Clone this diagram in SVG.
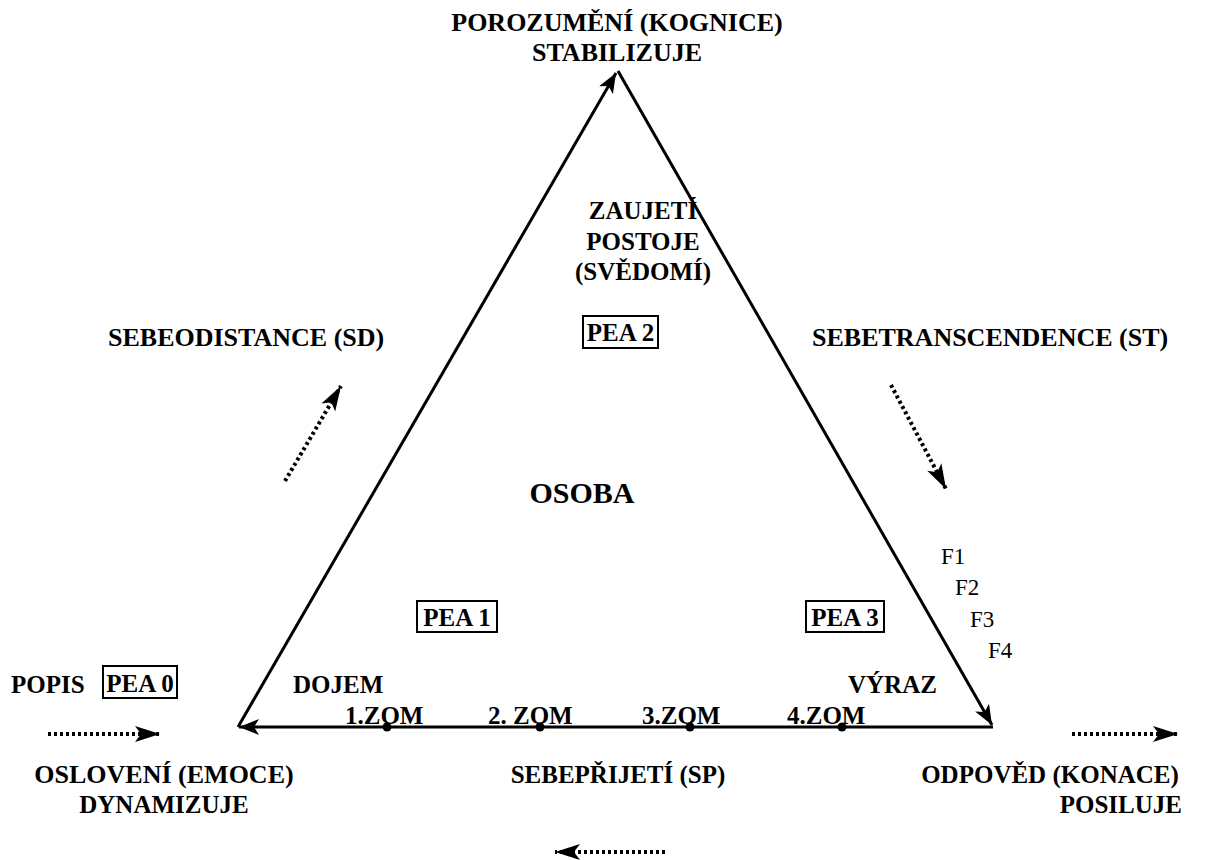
<svg xmlns="http://www.w3.org/2000/svg" width="1208" height="860" viewBox="0 0 1208 860">
  <defs>
    <style>
      text { font-family: 'Liberation Serif', 'Times New Roman', Times, 'DejaVu Serif', serif; fill: #000; font-size: 25px; }
      .t { font-weight: bold; }
      .l { font-size: 26px; }
      .big { font-size: 30px; }
      .f { font-size: 23px; }
      .edge { stroke: #000; stroke-width: 3; fill: none; }
      .dot { stroke: #000; stroke-width: 4; fill: none; stroke-dasharray: 3 3; }
      .box { stroke: #000; stroke-width: 2; fill: none; }
    </style>
    <marker id="headEdge" markerUnits="userSpaceOnUse" markerWidth="24" markerHeight="20" refX="20" refY="8" orient="auto">
      <path d="M0,0 L20,8 L0,16 L5,8 z" fill="#000"/>
    </marker>
    <marker id="headDot" markerUnits="userSpaceOnUse" markerWidth="28" markerHeight="18" refX="25" refY="8" orient="auto">
      <path d="M0,0 L25,8 L0,16 L6,8 z" fill="#000"/>
    </marker>
  </defs>

  <!-- triangle sides and flow arrows -->
  <g id="connectors">
    <line class="edge" x1="993" y1="727" x2="239" y2="727" marker-end="url(#headEdge)"/>
    <line class="edge" x1="238" y1="727" x2="616" y2="73" marker-end="url(#headEdge)"/>
    <line class="edge" x1="618" y1="71" x2="992" y2="725" marker-end="url(#headEdge)"/>
    <line class="dot" x1="285" y1="481" x2="341" y2="386" marker-end="url(#headDot)"/>
    <line class="dot" x1="891" y1="385" x2="946" y2="489" marker-end="url(#headDot)"/>
    <line class="dot" x1="48" y1="734" x2="160" y2="734" marker-end="url(#headDot)"/>
    <line class="dot" x1="1072" y1="734" x2="1178" y2="734" marker-end="url(#headDot)"/>
    <line class="dot" x1="665" y1="852" x2="555" y2="852" marker-end="url(#headDot)"/>
    <circle cx="387" cy="727" r="4.5" fill="#000"/>
    <circle cx="540" cy="727" r="4.5" fill="#000"/>
    <circle cx="690" cy="727" r="4.5" fill="#000"/>
    <circle cx="842" cy="727" r="4.5" fill="#000"/>
  </g>

  <g id="top">
    <text class="t l" x="617" y="31" text-anchor="middle">POROZUMĚNÍ (KOGNICE)</text>
    <text class="t l" x="617" y="61" text-anchor="middle">STABILIZUJE</text>
  </g>

  <g id="postoj">
    <text class="t" x="643" y="219" text-anchor="middle">ZAUJETÍ</text>
    <text class="t" x="643" y="250" text-anchor="middle">POSTOJE</text>
    <text class="t" x="643" y="280" text-anchor="middle">(SVĚDOMÍ)</text>
  </g>

  <g id="pea2">
    <rect class="box" x="583" y="316" width="75" height="32"/>
    <text class="t" x="620.5" y="341" text-anchor="middle">PEA 2</text>
  </g>

  <g id="sd">
    <text class="t l" x="108" y="346">SEBEODISTANCE (SD)</text>
  </g>
  <g id="st">
    <text class="t l" x="812" y="346">SEBETRANSCENDENCE (ST)</text>
  </g>

  <g id="osoba">
    <text class="t big" x="582" y="503" text-anchor="middle">OSOBA</text>
  </g>

  <g id="pea1">
    <rect class="box" x="417" y="601" width="80" height="31"/>
    <text class="t" x="457" y="626" text-anchor="middle">PEA 1</text>
  </g>
  <g id="pea3">
    <rect class="box" x="806" y="601" width="78" height="31"/>
    <text class="t" x="845" y="626" text-anchor="middle">PEA 3</text>
  </g>

  <g id="f-levels">
    <text class="f" x="941" y="564">F1</text>
    <text class="f" x="955" y="595">F2</text>
    <text class="f" x="970" y="627">F3</text>
    <text class="f" x="988" y="658">F4</text>
  </g>

  <g id="popis">
    <text class="t" x="11" y="693">POPIS</text>
    <rect class="box" x="103" y="666" width="74" height="32"/>
    <text class="t" x="140" y="692" text-anchor="middle">PEA 0</text>
  </g>

  <g id="dojem">
    <text class="t" x="293" y="693">DOJEM</text>
  </g>
  <g id="vyraz">
    <text class="t" x="848" y="693">VÝRAZ</text>
  </g>

  <g id="zom">
    <text class="t" x="345" y="724">1.ZOM</text>
    <text class="t" x="488" y="724">2. ZOM</text>
    <text class="t" x="642" y="724">3.ZOM</text>
    <text class="t" x="787" y="724">4.ZOM</text>
  </g>

  <g id="osloveni">
    <text class="t l" x="164" y="783" text-anchor="middle">OSLOVENÍ (EMOCE)</text>
    <text class="t" x="164" y="813" text-anchor="middle">DYNAMIZUJE</text>
  </g>
  <g id="sp">
    <text class="t" x="618" y="783" text-anchor="middle">SEBEPŘIJETÍ (SP)</text>
  </g>
  <g id="odpoved">
    <text class="t" x="1050" y="783" text-anchor="middle">ODPOVĚD (KONACE)</text>
    <text class="t" x="1182" y="813" text-anchor="end">POSILUJE</text>
  </g>
</svg>
